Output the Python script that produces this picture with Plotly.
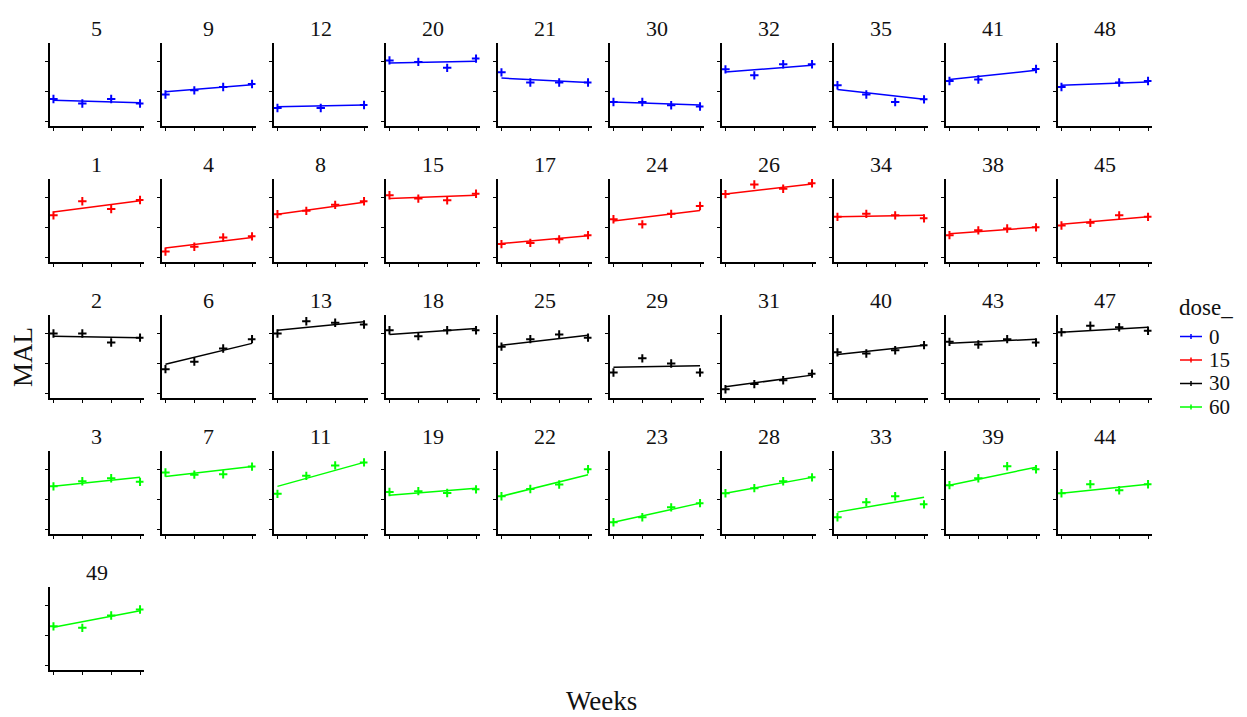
import plotly.graph_objects as go

# ---------------- data ----------------
panel_ids = [5, 9, 12, 20, 21, 30, 32, 35, 41, 48,
             1, 4, 8, 15, 17, 24, 26, 34, 38, 45,
             2, 6, 13, 18, 25, 29, 31, 40, 43, 47,
             3, 7, 11, 19, 22, 23, 28, 33, 39, 44,
             49]
panel_dose = [0] * 10 + [15] * 10 + [30] * 10 + [60] * 10 + [60]

panel_weeks = [
    [1, 2, 3, 4], [1, 2, 3, 4], [1, 2, 3], [1, 2, 3, 4], [1, 2, 3, 4],
    [1, 2, 3, 4], [1, 2, 3, 4], [1, 2, 3, 4], [1, 2, 4], [1, 3, 4],
    [1, 2, 3, 4], [1, 2, 3, 4], [1, 2, 3, 4], [1, 2, 3, 4], [1, 2, 3, 4],
    [1, 2, 3, 4], [1, 2, 3, 4], [1, 2, 3, 4], [1, 2, 3, 4], [1, 2, 3, 4],
    [1, 2, 3, 4], [1, 2, 3, 4], [1, 2, 3, 4], [1, 2, 3, 4], [1, 2, 3, 4],
    [1, 2, 3, 4], [1, 2, 3, 4], [1, 2, 3, 4], [1, 2, 3, 4], [1, 2, 3, 4],
    [1, 2, 3, 4], [1, 2, 3, 4], [1, 2, 3, 4], [1, 2, 3, 4], [1, 2, 3, 4],
    [1, 2, 3, 4], [1, 2, 3, 4], [1, 2, 3, 4], [1, 2, 3, 4], [1, 2, 3, 4],
    [1, 2, 3, 4],
]

panel_mal = [
    [17.4, 15.9, 17.4, 15.9], [18.9, 20.3, 21.4, 22.4], [14.4, 14.4, 15.4],
    [30.3, 29.8, 27.8, 30.9], [26.3, 22.9, 22.9, 22.9], [16.4, 16.4, 15.3, 14.9],
    [27.3, 25.3, 29.0, 29.0], [22.0, 18.9, 16.4, 17.3], [23.4, 23.9, 27.4],
    [21.4, 22.9, 23.4],
    [24.0, 28.7, 26.1, 29.1], [11.9, 13.5, 16.6, 17.0], [24.4, 25.5, 27.5, 28.7],
    [30.7, 29.6, 29.0, 31.2], [14.4, 14.8, 16.0, 17.4], [22.7, 21.0, 24.5, 27.1],
    [31.1, 34.3, 32.9, 34.7], [23.5, 24.5, 24.0, 23.0], [17.4, 19.0, 19.6, 20.0],
    [20.6, 21.5, 24.0, 23.5],
    [30.0, 30.0, 27.0, 28.6], [18.1, 20.6, 25.0, 28.1], [30.0, 34.1, 33.6, 33.0],
    [31.1, 29.1, 31.1, 31.1], [25.6, 28.1, 29.7, 28.6], [17.0, 21.7, 20.0, 17.0],
    [11.4, 13.1, 14.4, 16.6], [23.7, 23.3, 24.4, 26.1], [27.2, 26.3, 28.1, 27.0],
    [30.4, 32.6, 32.1, 30.9],
    [24.4, 26.1, 27.1, 25.9], [29.0, 28.3, 28.4, 31.0], [21.9, 27.9, 31.4, 32.4],
    [22.5, 22.8, 22.2, 23.4], [21.1, 23.5, 25.0, 30.1], [12.4, 14.1, 17.4, 18.8],
    [22.1, 23.8, 26.1, 27.4], [14.1, 19.1, 21.1, 18.4], [24.8, 27.1, 31.1, 30.1],
    [22.1, 25.1, 23.1, 25.1],
    [23.1, 22.6, 26.7, 28.7],
]

# fitted values at first and last observed week of each panel
fit_start = [17.0, 19.8, 14.8, 29.4, 24.4, 16.4, 26.4, 20.6, 23.9, 22.0,
             25.1, 13.1, 24.4, 29.6, 14.6, 22.1, 31.1, 23.5, 17.9, 21.0,
             29.1, 19.7, 31.1, 29.7, 26.1, 18.7, 12.2, 23.0, 26.7, 30.4,
             24.4, 27.7, 24.4, 21.4, 21.1, 12.4, 22.1, 15.8, 24.8, 22.1,
             22.8]
fit_end = [16.2, 22.2, 15.4, 30.0, 22.9, 15.4, 28.7, 17.3, 27.0, 23.1,
           28.9, 16.6, 28.4, 30.7, 17.2, 25.6, 34.5, 24.0, 20.0, 23.5,
           28.6, 26.7, 33.9, 31.7, 29.4, 19.2, 16.1, 26.1, 28.1, 32.1,
           27.4, 31.0, 32.4, 23.8, 28.3, 18.8, 27.4, 20.8, 30.8, 25.1,
           28.3]

dose_levels = [0, 15, 30, 60]
dose_colors = {0: "#0000FF", 15: "#FF0000", 30: "#000000", 60: "#00FF00"}
y_ticks = [10, 20, 30]
y_range = [8.4, 36.2]

# ---------------- layout geometry (page pixels; page has 8px body margin) ----------------
OFF = 8
W, H = 1247 - OFF, 717 - OFF


def px(x):
    return (x - OFF) / W


def py(y):
    return 1 - (y - OFF) / H


ncol = 10
col_x0, col_pitch, panel_w = 50.0, 112.0, 93.5
row_top0, row_pitch, panel_h = 42.7, 136.1, 83.3

FONT = "Liberation Serif, Times New Roman, serif"
TXT = "#111"

fig = go.Figure()
annotations = []
shapes = []
layout_axes = {}

for i, pid in enumerate(panel_ids):
    r, c = divmod(i, ncol)
    x0 = col_x0 + c * col_pitch
    x1 = x0 + panel_w
    ytop = row_top0 + r * row_pitch
    ybot = ytop + panel_h
    n = i + 1
    xa = "x" if n == 1 else f"x{n}"
    ya = "y" if n == 1 else f"y{n}"
    xkey = "xaxis" if n == 1 else f"xaxis{n}"
    ykey = "yaxis" if n == 1 else f"yaxis{n}"

    wks = panel_weeks[i]
    wmin, wmax = min(wks), max(wks)
    pad = 0.04 * (wmax - wmin)
    layout_axes[xkey] = dict(
        domain=[px(x0), px(x1)], anchor=ya, range=[wmin - pad, wmax + pad],
        tickvals=list(range(wmin, wmax + 1)), showticklabels=False,
        ticks="outside", ticklen=3, tickwidth=1, tickcolor="#000",
        showline=True, linecolor="#000", linewidth=2,
        showgrid=False, zeroline=False, fixedrange=True,
    )
    layout_axes[ykey] = dict(
        domain=[py(ybot), py(ytop)], anchor=xa, range=y_range,
        tickvals=y_ticks, showticklabels=False,
        ticks="outside", ticklen=3, tickwidth=1, tickcolor="#000",
        showline=True, linecolor="#000", linewidth=2,
        showgrid=False, zeroline=False, fixedrange=True,
    )

    col = dose_colors[panel_dose[i]]
    fig.add_trace(go.Scatter(
        x=[wmin, wmax], y=[fit_start[i], fit_end[i]], mode="lines",
        line=dict(color=col, width=1.5), xaxis=xa, yaxis=ya,
        showlegend=False, hoverinfo="skip",
    ))
    fig.add_trace(go.Scatter(
        x=wks, y=panel_mal[i], mode="markers",
        marker=dict(symbol="cross-thin", size=6, line=dict(color=col, width=2), color=col),
        xaxis=xa, yaxis=ya, showlegend=False,
    ))

    annotations.append(dict(
        text=str(pid), x=px((x0 + x1) / 2), y=py(28.3 + r * row_pitch),
        xref="paper", yref="paper", xanchor="center", yanchor="middle",
        showarrow=False, font=dict(family=FONT, size=22, color=TXT),
    ))

# ---------------- manual legend ----------------
annotations.append(dict(
    text="dose_", x=px(1177), y=py(307), xref="paper", yref="paper",
    xanchor="left", yanchor="middle", showarrow=False,
    font=dict(family=FONT, size=23, color=TXT),
))
leg_y = [336.5, 360.0, 383.5, 407.0]
for d, ly in zip(dose_levels, leg_y):
    colr = dose_colors[d]
    shapes.append(dict(type="line", xref="paper", yref="paper",
                       x0=px(1180), x1=px(1202), y0=py(ly), y1=py(ly),
                       line=dict(color=colr, width=1.5)))
    shapes.append(dict(type="line", xref="paper", yref="paper",
                       x0=px(1191), x1=px(1191), y0=py(ly - 2.5), y1=py(ly + 2.5),
                       line=dict(color=colr, width=1.5)))
    annotations.append(dict(
        text=str(d), x=px(1207), y=py(ly), xref="paper", yref="paper",
        xanchor="left", yanchor="middle", showarrow=False,
        font=dict(family=FONT, size=21, color=TXT),
    ))

annotations.append(dict(
    text="MAL", x=px(23), y=py(357), xref="paper", yref="paper",
    textangle=-90, showarrow=False, xanchor="center", yanchor="middle",
    font=dict(family=FONT, size=27, color=TXT),
))
annotations.append(dict(
    text="Weeks", x=px(601), y=py(701), xref="paper", yref="paper",
    showarrow=False, xanchor="center", yanchor="middle",
    font=dict(family=FONT, size=27, color=TXT),
))

fig.update_layout(
    width=W, height=H,
    margin=dict(l=0, r=0, t=0, b=0),
    paper_bgcolor="white", plot_bgcolor="white",
    annotations=annotations,
    shapes=shapes,
    showlegend=False,
    **layout_axes,
)

fig.write_html("out.html")
